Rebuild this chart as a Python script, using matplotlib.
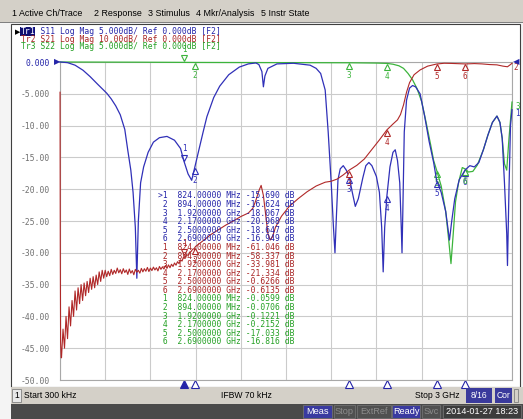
import matplotlib

matplotlib.use("Agg")
import matplotlib.pyplot as plt
import numpy as np
from matplotlib.patches import Rectangle
from matplotlib.transforms import offset_copy

W, H = 523, 419
MONO = "DejaVu Sans Mono"
SANS = "Liberation Sans"

# ---- data (GHz, dB) ----
s11_f = [0.0003, 0.05, 0.1, 0.153, 0.2, 0.25, 0.28, 0.31, 0.34, 0.37, 0.40, 0.43, 0.45, 0.47, 0.485, 0.50, 0.51,
         0.52, 0.535, 0.555, 0.585, 0.62, 0.66, 0.71, 0.76, 0.80, 0.824, 0.85, 0.874, 0.894, 0.92,
         0.95, 0.975, 1.02, 1.06, 1.12, 1.19, 1.25, 1.30, 1.32, 1.34, 1.35, 1.36, 1.38, 1.44, 1.55,
         1.66, 1.70, 1.73, 1.76, 1.78, 1.80, 1.815, 1.825, 1.835, 1.845, 1.86, 1.88, 1.90, 1.92,
         1.94, 1.96, 1.98, 2.01, 2.03, 2.05, 2.07, 2.10, 2.12, 2.135, 2.145, 2.155, 2.17, 2.19,
         2.21, 2.225, 2.24, 2.255, 2.265, 2.27, 2.275, 2.285, 2.30, 2.32, 2.34, 2.36, 2.39, 2.42,
         2.45, 2.48, 2.50, 2.53, 2.56, 2.585, 2.60, 2.62, 2.65, 2.69, 2.72, 2.75, 2.78, 2.81, 2.84,
         2.87, 2.90, 2.92, 2.935, 2.95, 2.965, 2.97, 2.98, 2.99, 3.0]
s11_db = [0, -0.1, -0.5, -1.3, -2.3, -3.5, -4.2, -4.9, -5.8, -6.9, -8.3, -10.6, -13.9, -17, -20.5, -26, -34,
          -25, -19, -16.5, -14.2, -12.6, -11.9, -11.7, -12.3, -13.6, -15.69, -17.6, -18.6, -16.62, -14.0,
          -11.0, -8.6, -5.6, -3.8, -2.0, -0.8, -0.3, -0.15, -0.4, -1.5, -3.9, -2.2, -1.0, -0.3, -0.2,
          -0.5, -1.0, -1.8, -4.4, -11, -19, -26, -30, -24, -18.5, -16.8, -16.3, -17, -18.07,
          -20.5, -22.7, -21.5, -18.2, -16.3, -15.8, -16.3, -18, -20.5, -26, -33, -26, -20.97, -16.5,
          -14.2, -13.8, -15.5, -19, -26, -30, -24, -11, -6, -4.1, -3.7, -3.9, -5, -8.5,
          -12.5, -15.8, -18.65, -20.5, -23.5, -28, -25, -21.5, -18.5, -16.95, -16.3, -16.5, -15.8, -13.8, -11.5,
          -9.5, -8.5, -9.5, -12, -19, -27, -32, -20, -10, -7.5]

s22_f = [0.0003, 0.5, 0.824, 0.894, 1.5, 1.92, 2.1, 2.17, 2.21, 2.25, 2.28, 2.31, 2.34, 2.37, 2.40,
         2.43, 2.46, 2.48, 2.50, 2.53, 2.56, 2.58, 2.595, 2.61, 2.625, 2.645, 2.67, 2.69, 2.71, 2.74,
         2.77, 2.81, 2.84, 2.87, 2.90, 2.92, 2.935, 2.95, 2.965, 2.98, 3.0]
s22_db = [0, -0.03, -0.06, -0.07, -0.1, -0.12, -0.17, -0.22, -0.35, -0.6, -1.0, -1.8, -2.8, -4.2, -6.2,
          -9.5, -13, -15.5, -17.03, -19.5, -23.5, -28, -31.7, -27, -22, -19, -16.6, -16.82, -17.3, -17.2,
          -16.2, -13.8, -11.5, -9.5, -8.5, -9.5, -12, -16, -17, -12, -6.3]

# S21 (10 dB/div): noisy low-frequency part on the sweep grid, then the filter edge
s21_start_f = [0.0003, 0.002, 0.004, 0.008]
s21_start_db = [-9.5, -60, -88, -93]
s21_noisy_f = np.round(np.arange(1, 91) * 0.01, 2)
s21_noisy_db = [-93, -84, -90, -80, -87, -77, -83, -75, -80, -72,
                -78, -71, -76, -70, -75, -69.5, -73.5, -69, -72.5, -68,
                -71.5, -67.5, -71, -67, -70, -66, -69, -65.5, -68, -65.5,
                -67.5, -65.8, -67.2, -65.2, -66.8, -65.5, -66.5, -64.8, -66.3, -65.3,
                -66.6, -65.0, -66.2, -65.4, -66.8, -65.1, -66.4, -65.6, -66.9, -65.2,
                -66.1, -65.5, -66.4, -64.9, -66.0, -65.0, -65.8, -64.6, -65.9, -64.8,
                -65.6, -64.5, -65.4, -64.7, -65.7, -64.3, -65.2, -64.4, -65.1, -64.0,
                -64.9, -63.8, -64.7, -63.6, -64.3, -63.2, -63.9, -62.8, -63.4, -62.2,
                -62.6, -61.3, -61.5, -60.6, -60.8, -59.8, -59.6, -58.9, -58.7, -58.0]
s21_tail_f = [0.92, 0.95, 1.0, 1.05, 1.1, 1.15, 1.2, 1.25, 1.28, 1.30, 1.32, 1.335, 1.35, 1.365, 1.38,
              1.395, 1.41, 1.43, 1.47, 1.52, 1.58, 1.64, 1.70, 1.76, 1.80, 1.84, 1.88, 1.92, 1.97,
              2.02, 2.07, 2.12, 2.17, 2.21, 2.24, 2.26, 2.28, 2.30, 2.32, 2.35, 2.39, 2.44, 2.5,
              2.55, 2.6, 2.69, 2.75, 2.8, 2.85, 2.9, 2.94, 2.97, 2.99, 3.0]
s21_tail_db = [-57.3, -56.2, -54.3, -52.8, -51.3, -50, -48.6, -47.5, -46, -43.5, -40.5, -38.8, -42, -48, -54,
               -56, -55, -52, -48.5, -45.5, -43, -40.8, -39, -37.8, -37.5, -36.8, -35.5, -33.98, -32.5,
               -30.5, -27.5, -24.5, -21.33, -19.5, -18.2, -16.5, -13.5, -9.5, -6.5, -4.0, -2.5, -1.3, -0.63,
               -0.4, -0.45, -0.61, -0.5, -0.6, -0.8, -0.9, -1.3, -1.5, -0.8, -0.4]

marker_f = [0.824, 0.894, 1.92, 2.17, 2.5, 2.69]
marker_f_text = ["824.00000 MHz", "894.00000 MHz", "1.9200000 GHz", "2.1700000 GHz",
                 "2.5000000 GHz", "2.6900000 GHz"]
s11_mk = [-15.690, -16.624, -18.067, -20.968, -18.647, -16.949]
s21_mk = [-61.046, -58.337, -33.981, -21.334, -0.6266, -0.6135]
s22_mk = [-0.0599, -0.0706, -0.1221, -0.2152, -17.033, -16.816]

ytick_vals = [0, -5, -10, -15, -20, -25, -30, -35, -40, -45, -50]
ytick_text = ["0.000", "-5.000", "-10.00", "-15.00", "-20.00", "-25.00", "-30.00", "-35.00",
              "-40.00", "-45.00", "-50.00"]
headers = ["Tr1 S11 Log Mag 5.000dB/ Ref 0.000dB [F2]",
           "Tr2 S21 Log Mag 10.00dB/ Ref 0.000dB [F2]",
           "Tr3 S22 Log Mag 5.000dB/ Ref 0.000dB [F2]"]
menu = [(12, "1 Active Ch/Trace"), (94, "2 Response"), (148, "3 Stimulus"),
        (196, "4 Mkr/Analysis"), (261, "5 Instr State")]

BLUE, RED, GREEN = "#3030b8", "#b02828", "#3cb43c"
TBLUE, TRED, TGREEN = "#2424a8", "#a82424", "#24a024"

fig = plt.figure(figsize=(W / 100, H / 100), dpi=100)
fig.patch.set_facecolor("#d4d0c8")


def box(x0, y0, x1, y1, fc, ec="none", lw=0.0, z=-5):
    fig.add_artist(Rectangle((x0 / W, 1 - y1 / H), (x1 - x0) / W, (y1 - y0) / H,
                             transform=fig.transFigure, fc=fc, ec=ec, lw=lw, zorder=z))


def put(x, y, s, **kw):
    kw.setdefault("va", "center")
    kw.setdefault("family", MONO)
    kw.setdefault("fontsize", 5.8)
    fig.text(x / W, 1 - y / H, s, **kw)


# window chrome
box(0, 23, 523, 419, "#f4f4f4")
box(11, 24, 520, 387, "white", ec="#404040", lw=0.8)
box(11, 387, 523, 404, "#d4d0c8")
box(11, 404, 523, 419, "#4a4a4a")
box(0, 22, 523, 23.5, "#808080")

for x, s in menu:
    put(x, 13, s, family=SANS, fontsize=6.4, color="black")

# trace header
box(20, 27.5, 35, 36, "#101070", z=2)
put(15, 32, "\u25b6", fontsize=5, color="black", family="DejaVu Sans")
for i, (s, c) in enumerate(zip(headers, [TBLUE, TRED, TGREEN])):
    put(21, 32 + 7 * i, s, color=c)
put(21, 32, "Tr1", color="white")

# main grid
ax = fig.add_axes([60 / W, 1 - 380 / H, 452 / W, 318 / H])
ax.set_xlim(0, 3)
ax.set_ylim(-50, 0)
ax.set_xticks(np.arange(0, 3.01, 0.3))
ax.set_yticks(ytick_vals)
ax.set_yticklabels(ytick_text, family=MONO, fontsize=5.8, color="#707070")
ax.get_yticklabels()[0].set_color(TBLUE)
ax.tick_params(length=0, labelbottom=False, pad=7)
ax.grid(color="#cbcbcb", lw=0.8)
for sp in ax.spines.values():
    sp.set_color("#a8a8a8")
    sp.set_linewidth(0.8)

ax2 = ax.twinx()
ax2.set_ylim(-100, 0)
ax2.set_axis_off()

ax.plot(s22_f, s22_db, color=GREEN, lw=0.9, clip_on=False, zorder=3)
ax.plot(s11_f, s11_db, color=BLUE, lw=0.9, clip_on=False, zorder=4)
s21_f = list(s21_start_f) + list(s21_noisy_f) + s21_tail_f
s21_db = s21_start_db + s21_noisy_db + s21_tail_db
ax2.plot(s21_f, s21_db, color=RED, lw=0.8, clip_on=False)


def markers(a, vals, color):
    down = offset_copy(a.transData, fig=fig, y=-3.5, units="dots")
    up = offset_copy(a.transData, fig=fig, y=4, units="dots")
    lab_dn = offset_copy(a.transData, fig=fig, y=-13, units="dots")
    lab_up = offset_copy(a.transData, fig=fig, y=13, units="dots")
    for i, (f, v) in enumerate(zip(marker_f, vals)):
        if i == 0:
            a.plot(f, v, marker="v", ms=5, mfc="white", mec=color, mew=0.8, transform=up, clip_on=False)
            a.text(f, v, "1", transform=lab_up, color=color, ha="center", va="center",
                   family=MONO, fontsize=5.5, clip_on=False)
        else:
            a.plot(f, v, marker="^", ms=5, mfc="white", mec=color, mew=0.8, transform=down, clip_on=False)
            a.text(f, v, str(i + 1), transform=lab_dn, color=color, ha="center", va="center",
                   family=MONO, fontsize=5.5, clip_on=False)


markers(ax, s11_mk, BLUE)
markers(ax, s22_mk, GREEN)
markers(ax2, s21_mk, RED)

# stimulus markers under the grid
below = offset_copy(ax.transData, fig=fig, y=-4, units="dots")
for i, f in enumerate(marker_f):
    ax.plot(f, -50, marker="^", ms=5.5, mfc=TBLUE if i == 0 else "white", mec=TBLUE, mew=0.8,
            transform=below, clip_on=False)

# reference arrows and trace-end labels
put(57, 62, "\u25b6", color=TBLUE, fontsize=6, family="DejaVu Sans", ha="center")
put(516, 62, "\u25c0", color=TBLUE, fontsize=6, family="DejaVu Sans", ha="center")
end = offset_copy(ax.transData, fig=fig, x=3, y=-4, units="dots")
ax.text(3.0, s11_db[-1], "1", transform=end, color=BLUE, family=MONO, fontsize=5.5, va="center")
ax.text(3.0, s22_db[-1], "3", transform=end, color=GREEN, family=MONO, fontsize=5.5, va="center")
end2 = offset_copy(ax2.transData, fig=fig, x=1, y=-4, units="dots")
ax2.text(3.0, s21_db[-1], "2", transform=end2, color=RED, family=MONO, fontsize=5.5, va="center")

# marker table
for k, (vals, c) in enumerate([(s11_mk, TBLUE), (s21_mk, TRED), (s22_mk, TGREEN)]):
    for i, (ft, v) in enumerate(zip(marker_f_text, vals)):
        num = f"{v:.3f}" if abs(v) >= 10 else f"{v:.4f}"
        tag = ">1" if (k == 0 and i == 0) else f" {i + 1}"
        put(158, 196 + 8.58 * (6 * k + i), f"{tag}  {ft} {num} dB", color=c, zorder=6)

# bottom bars
box(12, 389, 21, 402, "#e8e8e8", ec="#808080", lw=0.6, z=1)
put(16.5, 395.5, "1", family=SANS, fontsize=6.2, ha="center")
put(24, 395.5, "Start 300 kHz", family=SANS, fontsize=6.2)
put(246, 395.5, "IFBW 70 kHz", family=SANS, fontsize=6.2, ha="center")
put(460, 395.5, "Stop 3 GHz", family=SANS, fontsize=6.2, ha="right")
box(466, 388, 492, 403, "#3a3a9c", z=1)
put(479, 395.5, "8/16", family=SANS, fontsize=6.2, ha="center", color="white")
box(495, 388, 512, 403, "#3a3a9c", z=1)
put(503.5, 395.5, "Cor", family=SANS, fontsize=6.2, ha="center", color="white")
box(514, 389, 518, 402, "#d4d0c8", ec="#808080", lw=0.6, z=1)

status = [(303, 332, "Meas", "#3a3aa0", "white"), (334, 355, "Stop", "#505050", "#8c8c8c"),
          (357, 391, "ExtRef", "#505050", "#8c8c8c"), (392, 420, "Ready", "#3a3aa0", "white"),
          (422, 440, "Svc", "#505050", "#8c8c8c"), (443, 521, "2014-01-27 18:23", "#3c3c3c", "white")]
for x0, x1, s, fc, tc in status:
    box(x0, 405, x1, 418, fc, ec="#707070", lw=0.6, z=1)
    put((x0 + x1) / 2, 411.5, s, family=SANS, fontsize=6.6, ha="center", color=tc)

fig.savefig("out.png", dpi=100, facecolor=fig.get_facecolor())
